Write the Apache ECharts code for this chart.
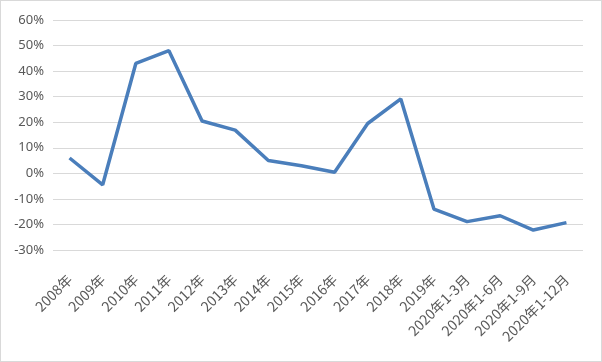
<!DOCTYPE html>
<html><head><meta charset="utf-8">
<script src="https://cdn.jsdelivr.net/npm/echarts@6/dist/echarts.min.js"></script>
<style>html,body{margin:0;padding:0;background:#fff}#c{width:602px;height:362px;box-sizing:border-box;border:1px solid #d9d9d9}</style>
</head><body><div id="c"></div>
<script>
const categories = ["2008年","2009年","2010年","2011年","2012年","2013年","2014年","2015年","2016年","2017年","2018年","2019年","2020年1-3月","2020年1-6月","2020年1-9月","2020年1-12月"];
const values = [6.0, -4.5, 43.0, 48.0, 20.5, 16.9, 5.0, 3.0, 0.4, 19.5, 29.1, -14.0, -18.9, -16.6, -22.2, -19.3];
const yTicks = {min: -30, max: 60, interval: 10};
const chart = echarts.init(document.getElementById('c'));
chart.setOption({
  animation: false,
  grid: {left: 52, right: 18, top: 19, bottom: 111},
  xAxis: {type: 'category', data: categories, boundaryGap: true,
    axisLine: {show: false}, axisTick: {show: false},
    axisLabel: {rotate: 45, color: '#595959', fontSize: 14, fontFamily: 'Noto Sans CJK SC', margin: 27, interval: 0}},
  yAxis: {type: 'value', min: yTicks.min, max: yTicks.max, interval: yTicks.interval,
    axisLine: {show: false}, axisTick: {show: false},
    axisLabel: {color: '#595959', fontSize: 13, fontFamily: 'Noto Sans', margin: 9, formatter: v => v + '%'},
    splitLine: {lineStyle: {color: '#d9d9d9', width: 1}}},
  series: [{type: 'line', data: values, symbol: 'none', lineStyle: {color: '#4a7ebb', width: 3.5}, itemStyle: {color: '#4a7ebb'}}]
});
</script></body></html>
